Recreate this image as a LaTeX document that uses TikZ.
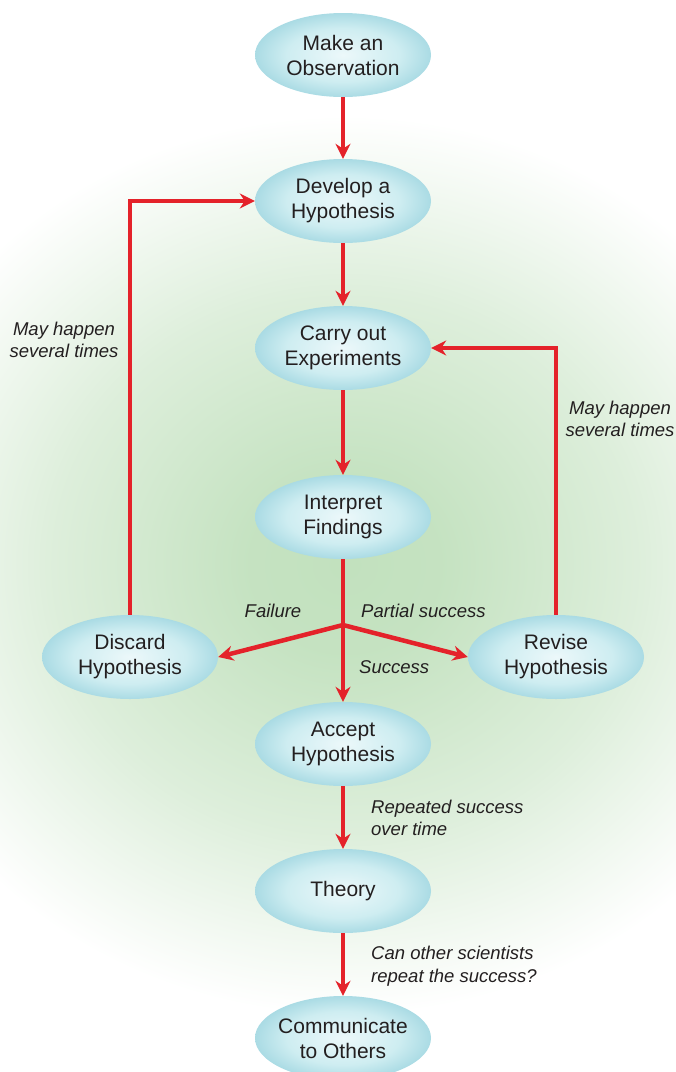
\documentclass[tikz,border=0pt]{standalone}
\usepackage{fontspec}
\setmainfont{Liberation Sans}
\usetikzlibrary{shapes.geometric,arrows.meta}

\definecolor{glowgreen}{RGB}{194,225,190}
\definecolor{bubin}{RGB}{236,248,250}
\definecolor{bubmid}{RGB}{206,237,241}
\definecolor{bubout}{RGB}{170,219,228}
\definecolor{flowred}{RGB}{228,34,42}
\definecolor{notegray}{RGB}{35,31,32}

\pgfdeclareradialshading{glow}{\pgfpoint{0bp}{0bp}}{color(0bp)=(glowgreen); color(5bp)=(glowgreen!95!white); color(15bp)=(glowgreen!55!white); color(25bp)=(white); color(50bp)=(white)}
\pgfdeclareradialshading{bubble}{\pgfpoint{0bp}{0bp}}{color(0bp)=(bubin); color(16bp)=(bubmid); color(25bp)=(bubout); color(50bp)=(bubout)}

\begin{document}
\begin{tikzpicture}[x=1pt, y=-1pt, >={Stealth[length=15pt,width=15pt]},
    step node/.style={ellipse, shading=bubble, minimum width=176pt, minimum height=84pt,
        inner sep=0pt, align=center, font=\fontsize{21}{25}\selectfont, text=notegray},
    flow/.style={draw=flowred, line width=4.5pt, ->},
    note/.style={font=\fontsize{18.5}{22.5}\selectfont\itshape, text=notegray, inner sep=0pt}]
    \useasboundingbox (0,0) rectangle (676,1072);

    % Green glow behind everything
    \begin{scope}
        \clip (0,0) rectangle (676,1072);
        \shade[shading=glow] (345,565) ellipse [x radius=490, y radius=450];
    \end{scope}

    % Steps
    \node[step node] (Observation) at (343,55) {Make an\\Observation};
    \node[step node] (Develop) at (343,201) {Develop a\\Hypothesis};
    \node[step node] (Experiments) at (343,348) {Carry out\\Experiments};
    \node[step node] (Findings) at (343,517) {Interpret\\Findings};
    \node[step node] (Discard) at (130,657) {Discard\\Hypothesis};
    \node[step node] (Revise) at (556,657) {Revise\\Hypothesis};
    \node[step node] (Accept) at (343,744) {Accept\\Hypothesis};
    \node[step node] (Theory) at (343,891) {Theory};
    \node[step node, inner xsep=-3pt] (Communicate) at (343,1038) {Communicate\\to Others};

    % Main chain
    \foreach \a/\b in {Observation/Develop, Develop/Experiments, Experiments/Findings,
                       Accept/Theory, Theory/Communicate}
    {
        \draw[flow] (\a) -- (\b);
    }

    % Branch after the findings
    \coordinate (Split) at (343,625);
    \draw[flowred, line width=4.5pt] (Findings.south) -- (Split);
    \foreach \t in {Discard.east, Revise.west, Accept.north}
    {
        \draw[flow] (Split) -- (\t);
    }

    % Loops back
    \draw[flow] (Discard.north) |- (Develop.west);
    \draw[flow] (Revise.north) |- (Experiments.east);

    % Labels
    \node[note, align=center] (LoopLeft) at (64,340) {May happen\\several times};
    \node[note, align=center] (LoopRight) at (620,419) {May happen\\several times};
    \node[note] (Failure) at (273,611) {Failure};
    \node[note, anchor=west] (Partial) at (361,611) {Partial success};
    \node[note, anchor=west] (Success) at (359,667) {Success};
    \node[note, anchor=west, align=left] (Repeated) at (371,818) {Repeated success\\over time};
    \node[note, anchor=west, align=left] (Repeat) at (371,966) {Can other scientists\\repeat the success?};
\end{tikzpicture}
\end{document}
